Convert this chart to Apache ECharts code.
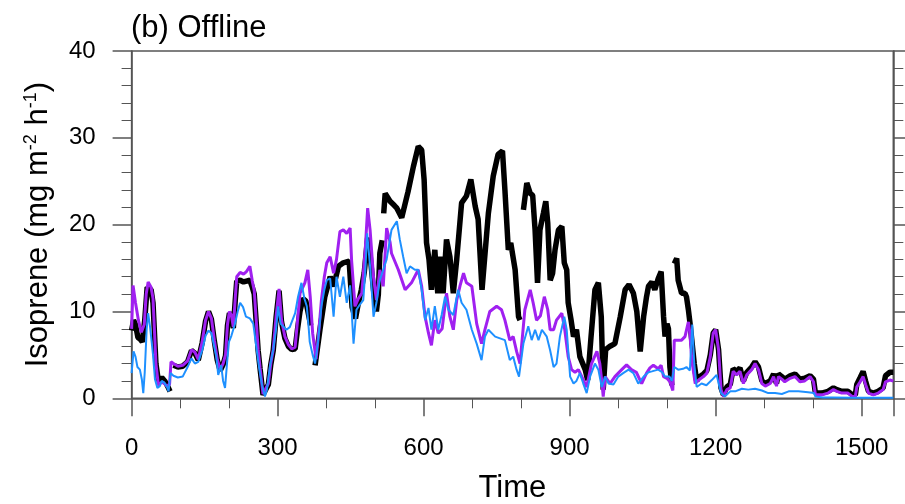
<!DOCTYPE html>
<html><head><meta charset="utf-8">
<script src="https://cdn.jsdelivr.net/npm/echarts@6/dist/echarts.min.js"></script>
<style>html,body{margin:0;padding:0;background:#fff}#c{width:905px;height:504px}</style>
</head><body><div id="c"></div>
<script>
const titleText = '(b) Offline';
const xTicks = [0, 300, 600, 900, 1200, 1500];
const yTicks = [0, 10, 20, 30, 40];

const blackData = [
[0,7.8],[4,9.0],[8,8.5],[13,7.0],[18,6.8],[22,6.5],[27,9],[32,12.8],[36,13.0],[40,12.5],[44,11],[50,4],[55,2.0],[62,2.4],[68,2.0],[74,1.4],[79,0.8],[82,null],
[86,3.8],[95,3.6],[105,3.7],[115,4.2],[123,5.5],[130,5.2],[137,4.4],[145,6.4],[152,8.9],[158,10.0],[164,9.1],[170,6.6],[176,4.4],[182,3.2],[188,3.9],[193,4.9],[197,8.4],[201,9.8],[205,9.5],[209,8.1],[213,11.3],[216,13.5],[223,13.6],[230,13.4],[236,13.5],[243,13.6],[248,12.8],[252,12.0],[256,8.8],[260,5.5],[264,3.4],[270,0.4],[274,0.3],[281,1.6],[286,3.9],[291,5.5],[297,9.4],[303,12.4],[308,8.8],[315,6.9],[322,6.0],[329,5.6],[336,5.7],[341,8.0],[346,10.0],[352,11.5],[358,11.2],[364,9.5],[368,8.4],[371,null],
[377,3.8],[387,7.9],[397,11.7],[408,14.0],[415,12.9],[425,15.2],[435,15.6],[447,15.8],[453,10.5],[460,9.2],[466,11.0],[472,12.5],[478,14.5],[485,18.5],[490,16.5],[497,12.5],[503,10.0],[507,12.0],[510,16.7],[515,18.2],[517,null],
[518,21.3],[521,23.6],[524,23.8],[531,22.7],[540,22.2],[545,21.9],[555,20.8],[568,23.8],[579,26.7],[589,29.0],[596,28.6],[601,25.2],[606,17.9],[611,16.0],[616,12.5],[623,17.1],[629,12.1],[634,16.3],[640,12.1],[647,18.3],[654,16.3],[661,12.1],[668,16.0],[678,22.5],[688,23.3],[697,25.2],[706,22.1],[712,20.6],[720,12.5],[733,21.3],[743,25.6],[753,28.1],[762,28.5],[767,24.0],[774,17.1],[779,17.9],[788,14.8],[795,9.4],[798,9.0],[801,null],
[805,21.7],[812,24.8],[819,23.6],[824,23.4],[829,19.4],[834,13.3],[839,19.4],[846,21.3],[851,22.7],[855,20.2],[860,13.6],[865,14.4],[870,17.1],[877,19.4],[884,19.8],[889,15.6],[894,14.8],[897,11.0],[903,9.0],[908,7.1],[914,7.9],[921,4.8],[932,3.3],[937,2.1],[944,7.1],[952,12.5],[959,13.3],[965,9.4],[969,1.0],[974,5.6],[983,6.0],[993,6.3],[1004,9.4],[1014,12.5],[1022,13.1],[1031,12.1],[1038,10.0],[1045,5.4],[1052,9.4],[1058,11.7],[1062,12.9],[1069,13.4],[1075,12.5],[1082,13.8],[1088,14.6],[1093,9.4],[1096,7.1],[1100,8.6],[1103,8.0],[1106,3.6],[1110,1.5],[1112,null],
[1115,15.5],[1120,16.1],[1123,13.6],[1130,12.1],[1137,12.1],[1140,11.7],[1144,10.2],[1147,8.8],[1151,6.7],[1156,4.0],[1161,2.0],[1165,2.4],[1175,2.8],[1182,3.2],[1189,5.0],[1195,7.5],[1200,7.9],[1206,5.6],[1211,1.2],[1216,0.4],[1223,1.3],[1230,1.6],[1236,3.4],[1243,3.1],[1250,3.5],[1257,2.0],[1264,3.0],[1274,3.6],[1281,4.2],[1288,3.6],[1295,2.0],[1302,1.7],[1312,2.0],[1319,2.8],[1325,1.7],[1329,2.8],[1336,2.5],[1342,2.2],[1353,2.6],[1363,2.8],[1373,2.2],[1383,2.3],[1394,2.6],[1401,2.2],[1405,0.6],[1418,0.6],[1431,0.8],[1442,1.2],[1449,1.0],[1459,0.8],[1472,0.8],[1481,0.4],[1487,0.4],[1490,1.6],[1497,2.4],[1503,3.1],[1508,2.0],[1514,0.8],[1524,0.6],[1534,0.8],[1544,1.2],[1549,2.6],[1558,3.0],[1565,3.0]
];

const purpleData = [
[0,8.0],[3,13.0],[8,11.0],[14,9.0],[20,7.6],[26,8.5],[30,12.0],[34,13.4],[40,12.8],[44,11.5],[50,4.0],[55,1.5],[60,1.8],[66,1.8],[72,1.4],[78,1.6],[81,4.2],[86,4.0],[95,3.7],[105,3.8],[115,4.3],[123,5.6],[130,5.3],[137,4.5],[145,6.5],[152,9.0],[158,10.0],[164,9.2],[170,6.7],[176,4.5],[182,3.3],[188,4.0],[193,5.0],[197,8.5],[201,10.0],[205,9.6],[209,8.2],[213,11.5],[216,14.0],[223,14.5],[230,14.3],[236,14.6],[243,15.2],[248,13.5],[252,12.4],[256,9.0],[260,5.6],[264,3.5],[270,0.5],[274,0.4],[281,1.7],[286,4.0],[291,5.6],[297,9.5],[303,12.6],[308,9.0],[315,7.1],[322,6.2],[329,5.7],[336,5.9],[341,9.0],[346,12.1],[356,13.3],[362,14.8],[367,11.7],[372,7.5],[379,4.5],[385,8.0],[390,11.3],[396,14.0],[401,15.6],[408,16.3],[415,14.4],[421,16.0],[428,19.2],[435,19.4],[442,19.0],[449,19.6],[452,15.9],[459,10.6],[466,11.5],[473,12.1],[480,17.1],[485,21.9],[490,19.4],[497,14.0],[503,11.3],[510,14.8],[517,12.9],[524,19.6],[531,18.0],[534,16.7],[548,14.8],[562,12.5],[575,13.3],[589,14.8],[596,12.9],[603,9.4],[610,7.5],[616,6.1],[623,9.0],[630,7.5],[638,8.0],[647,12.1],[654,9.4],[661,7.9],[668,11.3],[675,13.0],[682,14.4],[688,13.3],[699,12.9],[709,8.6],[719,6.3],[726,7.9],[736,10.0],[750,10.6],[760,10.2],[767,9.0],[777,6.7],[784,7.1],[791,5.4],[798,4.0],[808,10.2],[819,12.5],[825,11.0],[832,9.0],[840,9.5],[848,11.7],[855,10.2],[860,7.9],[867,7.9],[873,9.0],[884,9.8],[890,7.9],[897,4.8],[904,3.3],[911,3.0],[918,3.3],[925,2.5],[935,1.3],[945,4.0],[956,5.4],[962,4.0],[966,2.0],[969,0.2],[973,2.5],[983,1.7],[993,2.5],[1007,3.3],[1017,3.85],[1027,3.3],[1037,3.0],[1048,1.7],[1058,2.9],[1065,3.5],[1072,3.8],[1082,3.4],[1088,3.8],[1093,2.5],[1100,2.3],[1106,1.9],[1112,0.9],[1115,6.7],[1130,6.7],[1137,7.1],[1144,8.8],[1147,7.5],[1151,4.4],[1158,1.7],[1165,2.1],[1175,2.5],[1182,2.9],[1189,4.8],[1195,7.5],[1200,7.9],[1206,5.6],[1211,1.0],[1216,0.2],[1223,1.0],[1230,1.2],[1236,3.1],[1243,2.7],[1250,3.1],[1257,1.7],[1264,2.7],[1274,3.3],[1281,4.0],[1288,3.3],[1295,1.7],[1302,1.4],[1312,1.7],[1319,2.5],[1325,1.4],[1329,2.5],[1336,2.2],[1342,1.9],[1353,2.3],[1363,2.5],[1373,1.9],[1383,2.0],[1394,2.5],[1401,1.9],[1405,0.4],[1418,0.4],[1431,0.6],[1442,1.0],[1449,0.8],[1459,0.6],[1472,0.6],[1481,0.2],[1487,0.2],[1490,1.3],[1497,1.9],[1503,2.5],[1508,1.6],[1514,0.6],[1524,0.4],[1534,0.6],[1544,1.0],[1549,1.9],[1558,2.1],[1565,2.0]
];

const blueData = [
[0,2.9],[4,5.4],[8,4.8],[12,3.6],[17,3.3],[21,2.2],[24,0.6],[27,3.0],[31,8.0],[34,9.8],[38,8.2],[44,5.0],[48,2.2],[53,1.2],[58,1.4],[62,2.0],[67,1.8],[72,1.4],[76,0.8],[80,2.9],[86,2.6],[95,2.4],[105,2.5],[115,3.6],[123,4.6],[130,4.0],[137,4.2],[145,5.5],[152,7.2],[158,7.8],[164,7.5],[168,7.4],[174,4.8],[178,2.7],[184,3.8],[188,2.0],[192,1.2],[196,4.0],[200,6.5],[205,7.2],[212,8.5],[218,10.0],[223,11.0],[229,10.5],[235,9.4],[243,9.2],[250,8.6],[256,6.0],[262,3.5],[268,1.5],[274,0.2],[278,1.0],[284,3.6],[291,5.6],[297,8.0],[301,10.6],[306,8.6],[313,8.2],[318,7.9],[325,8.2],[336,9.8],[342,11.7],[349,13.3],[355,11.5],[360,10.6],[364,8.0],[366,6.5],[372,5.0],[377,4.0],[383,6.5],[390,10.6],[396,12.5],[401,13.6],[408,13.8],[415,9.4],[421,14.0],[428,11.7],[435,14.0],[442,11.0],[449,13.0],[456,6.3],[462,10.2],[469,10.8],[476,11.3],[480,14.5],[484,19.0],[490,15.2],[497,9.4],[503,11.0],[510,13.6],[517,14.8],[524,16.0],[534,19.4],[545,20.4],[551,18.3],[558,16.3],[565,14.4],[572,15.2],[582,14.8],[589,14.8],[596,12.5],[603,9.0],[610,10.4],[616,7.9],[623,10.6],[630,7.9],[637,9.6],[644,11.7],[651,10.2],[661,9.6],[671,12.5],[678,11.0],[688,10.2],[699,7.9],[709,6.3],[719,4.4],[726,7.1],[733,7.9],[747,7.1],[757,6.9],[767,6.7],[777,4.4],[784,4.8],[791,3.3],[796,2.5],[805,6.3],[815,8.3],[822,6.7],[829,7.9],[836,6.7],[843,7.9],[853,7.1],[860,5.5],[867,3.6],[873,4.0],[880,7.1],[889,9.4],[894,7.9],[901,2.5],[908,1.7],[914,2.0],[921,2.9],[928,1.7],[935,0.6],[942,2.5],[952,4.0],[959,3.3],[966,1.3],[973,2.5],[980,1.7],[990,1.6],[1000,2.5],[1010,2.9],[1021,3.3],[1031,2.9],[1041,1.7],[1052,2.5],[1062,3.0],[1069,3.1],[1082,3.3],[1090,3.0],[1096,2.5],[1105,2.5],[1110,2.0],[1115,3.6],[1123,3.3],[1133,3.4],[1140,3.6],[1147,3.2],[1152,8.5],[1156,4.0],[1161,1.3],[1171,1.7],[1181,1.5],[1192,2.1],[1202,2.7],[1207,1.5],[1211,0.6],[1219,0.2],[1230,0.8],[1240,0.8],[1254,1.1],[1267,1.0],[1281,1.1],[1295,0.9],[1308,0.6],[1322,0.6],[1336,0.5],[1350,0.8],[1370,0.8],[1390,0.7],[1402,0.6],[1405,0.2],[1420,0.1],[1440,0.1],[1480,0.05],[1500,0.05],[1565,0.05]
];

const FONT = 'Liberation Sans';
const AX = '#555';
const chart = echarts.init(document.getElementById('c'), null, {renderer: 'canvas'});
const baseY = {
  type: 'value', min: 0, max: 40, interval: 10,
  axisLine: {show: true, lineStyle: {color: AX, width: 1.5}},
  axisTick: {show: true, inside: false, length: 19, lineStyle: {color: AX, width: 1.5}},
  minorTick: {show: true, splitNumber: 5, length: 10, lineStyle: {color: AX, width: 1}},
  splitLine: {show: false}
};
chart.setOption({
  animation: false,
  title: {text: titleText, left: 126, top: 8, textStyle: {fontFamily: FONT, fontSize: 31, fontWeight: 'normal', color: '#000'}},
  grid: {left: 131.6, right: 11.7, top: 51, bottom: 105.7, containLabel: false, outerBoundsMode: 'none',
    show: true, borderColor: AX, borderWidth: 1.5, backgroundColor: '#fff'},
  xAxis: [{
    type: 'value', min: 0, max: 1565, interval: 300,
    name: 'Time', nameLocation: 'middle', nameGap: 75,
    nameTextStyle: {fontFamily: FONT, fontSize: 31, color: '#000'},
    axisLine: {show: true, lineStyle: {color: AX, width: 1.5}},
    axisTick: {show: true, length: 18, lineStyle: {color: AX, width: 1.5}},
    minorTick: {show: true, splitNumber: 3, length: 10, lineStyle: {color: AX, width: 1}},
    axisLabel: {margin: 38, fontFamily: FONT, fontSize: 24, color: '#000',
      formatter: v => xTicks.indexOf(v) >= 0 ? String(v) : ''},
    splitLine: {show: false}
  }],
  yAxis: [Object.assign({}, baseY, {
    position: 'left',
    name: '{n|Isoprene (mg m}{s|-2}{n| h}{s|-1}{n|)}', nameLocation: 'middle', nameGap: 76, nameRotate: 90,
    nameTextStyle: {fontFamily: FONT, fontSize: 31, color: '#000',
      rich: {n: {fontFamily: FONT, fontSize: 31, color: '#000'}, s: {fontFamily: FONT, fontSize: 18, color: '#000', verticalAlign: 'top', padding: [0, 0, 16, 0]}}},
    axisLabel: {margin: 36, fontFamily: FONT, fontSize: 24, color: '#000',
      formatter: v => yTicks.indexOf(v) >= 0 ? String(v) : ''}
  }), Object.assign({}, baseY, {
    position: 'right',
    axisLabel: {show: false}
  })],
  series: [
    {type: 'line', data: blackData, showSymbol: false, symbol: 'none', connectNulls: false,
     lineStyle: {color: '#000', width: 5.5}, itemStyle: {color: '#000'}, z: 2},
    {type: 'line', data: purpleData, showSymbol: false, symbol: 'none',
     lineStyle: {color: '#a020f0', width: 3}, itemStyle: {color: '#a020f0'}, z: 3},
    {type: 'line', data: blueData, showSymbol: false, symbol: 'none',
     lineStyle: {color: '#1e90ff', width: 2}, itemStyle: {color: '#1e90ff'}, z: 4}
  ]
});
</script></body></html>
